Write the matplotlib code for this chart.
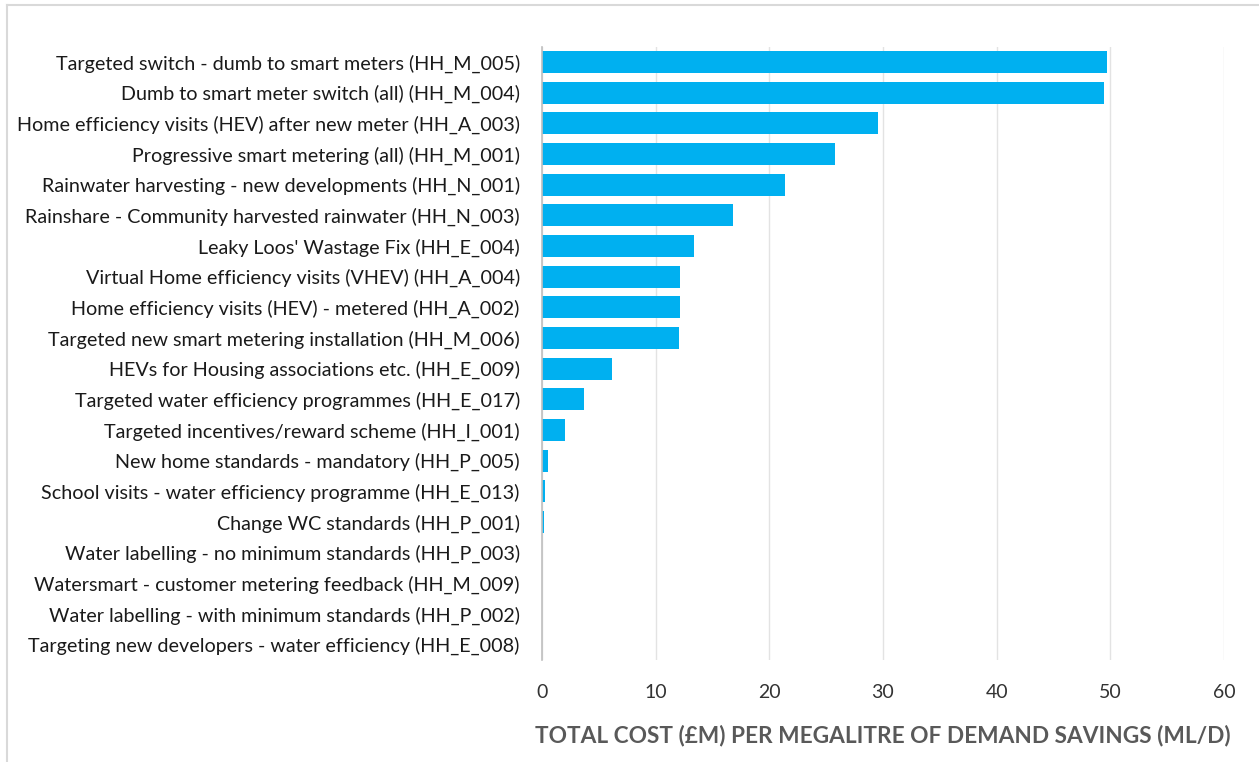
import matplotlib
matplotlib.use("Agg")
import matplotlib.pyplot as plt
from matplotlib.lines import Line2D

categories = [
    "Targeted switch - dumb to smart meters (HH_M_005)",
    "Dumb to smart meter switch (all) (HH_M_004)",
    "Home efficiency visits (HEV) after new meter (HH_A_003)",
    "Progressive smart metering (all) (HH_M_001)",
    "Rainwater harvesting - new developments (HH_N_001)",
    "Rainshare - Community harvested rainwater (HH_N_003)",
    "Leaky Loos' Wastage Fix (HH_E_004)",
    "Virtual Home efficiency visits (VHEV) (HH_A_004)",
    "Home efficiency visits (HEV) - metered (HH_A_002)",
    "Targeted new smart metering installation (HH_M_006)",
    "HEVs for Housing associations etc. (HH_E_009)",
    "Targeted water efficiency programmes (HH_E_017)",
    "Targeted incentives/reward scheme (HH_I_001)",
    "New home standards - mandatory (HH_P_005)",
    "School visits - water efficiency programme (HH_E_013)",
    "Change WC standards (HH_P_001)",
    "Water labelling - no minimum standards (HH_P_003)",
    "Watersmart - customer metering feedback (HH_M_009)",
    "Water labelling - with minimum standards (HH_P_002)",
    "Targeting new developers - water efficiency (HH_E_008)",
]
values = [49.7, 49.4, 29.6, 25.8, 21.4, 16.8, 13.4, 12.1, 12.1, 12.05,
          6.2, 3.7, 2.0, 0.55, 0.25, 0.18, 0.0, 0.0, 0.0, 0.0]
xticks = [0, 10, 20, 30, 40, 50, 60]
xlabel = "TOTAL COST (£M) PER MEGALITRE OF DEMAND SAVINGS (ML/D)"

plt.rcParams['font.family'] = ['Lato', 'DejaVu Sans']

fig = plt.figure(figsize=(12.59, 7.62), dpi=100)
# light frame lines at top and left of the image
fig.lines.append(Line2D([0.0055, 1.0], [0.9935, 0.9935], transform=fig.transFigure,
                        color='#D9D9D9', linewidth=1.5))
fig.lines.append(Line2D([0.0055, 0.0055], [0.0, 0.9935], transform=fig.transFigure,
                        color='#D9D9D9', linewidth=1.5))
ax = fig.add_axes([0.4305, 0.1339, 0.5417, 0.8049])

y = list(range(len(categories)))
ax.barh(y, values, height=0.72, color='#00B0F0', zorder=3)
ax.set_ylim(len(categories) - 0.5, -0.5)
ax.set_xlim(0, 60)
ax.set_yticks(y)
ax.set_yticklabels(categories, fontsize=14.2, color='#1a1a1a')
ax.set_xticks(xticks)
ax.set_xticklabels([str(t) for t in xticks], fontsize=14, color='#333333')
ax.tick_params(axis='y', length=0, pad=16)
ax.tick_params(axis='x', length=0, pad=17)
ax.grid(axis='x', color='#E3E3E3', linewidth=1, zorder=0)
for s in ['top', 'right', 'bottom']:
    ax.spines[s].set_visible(False)
ax.spines['left'].set_color('#BFBFBF')
ax.spines['left'].set_linewidth(1.2)
ax.spines['left'].set_zorder(4)
ax.set_xlabel(xlabel, fontsize=16.3, fontweight='bold', color='#595959', labelpad=17)

fig.savefig("out.png", dpi=100)
